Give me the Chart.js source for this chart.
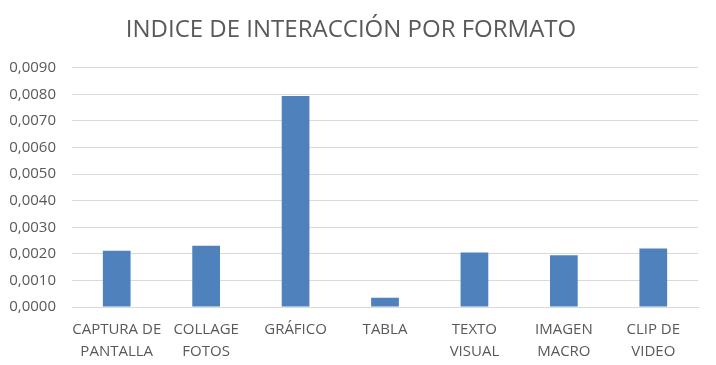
<!DOCTYPE html>
<html>
<head>
<meta charset="utf-8">
<script src="https://cdn.jsdelivr.net/npm/chart.js@4"></script>
<style>
    html, body { margin: 0; padding: 0; background: #fff; }
    #wrap { width: 716px; height: 365px; }
</style>
</head>
<body>
<div id="wrap"><canvas id="chart" width="716" height="365"></canvas></div>
<script>
const categories = [
    ["CAPTURA DE", "PANTALLA"],
    ["COLLAGE", "FOTOS"],
    ["GRÁFICO"],
    ["TABLA"],
    ["TEXTO", "VISUAL"],
    ["IMAGEN", "MACRO"],
    ["CLIP DE", "VIDEO"],
];
const indexValues = [0.00212, 0.0023, 0.00794, 0.00035, 0.00205, 0.00195, 0.0022];
const chartTitle = "INDICE DE INTERACCIÓN POR FORMATO";

const textColor = "#595959";
const gridColor = "#d9d9d9";
const fontFamily = "'Open Sans', 'Liberation Sans', sans-serif";

const ctx = document.getElementById("chart").getContext("2d");
new Chart(ctx, {
    type: "bar",
    data: {
        labels: categories,
        datasets: [{
            data: indexValues,
            backgroundColor: "#4f81bd",
            borderWidth: 0,
            barPercentage: 0.31,
            categoryPercentage: 1,
        }]
    },
    options: {
        responsive: false,
        animation: false,
        layout: { padding: { left: 4, right: 18, top: 0, bottom: 2 } },
        plugins: {
            legend: { display: false },
            tooltip: { enabled: false },
            title: {
                display: true,
                text: chartTitle,
                color: textColor,
                font: { family: fontFamily, size: 24, weight: "normal" },
                padding: { top: 16, bottom: 23 },
            }
        },
        scales: {
            x: {
                afterFit: (scale) => { scale.height = 56; },
                grid: { display: false, drawTicks: false },
                border: { display: true, color: gridColor, width: 1 },
                ticks: {
                    color: textColor,
                    font: { family: fontFamily, size: 15, lineHeight: 1.45 },
                    maxRotation: 0,
                    autoSkip: false,
                    padding: 12,
                },
            },
            y: {
                min: 0,
                max: 0.009,
                afterFit: (scale) => { scale.width = 68; },
                grid: { color: gridColor, drawTicks: false },
                border: { display: false },
                ticks: {
                    stepSize: 0.001,
                    color: textColor,
                    font: { family: fontFamily, size: 15 },
                    padding: 16,
                    callback: (value) => value.toFixed(4).replace(".", ","),
                },
            }
        }
    }
});
</script>
</body>
</html>
